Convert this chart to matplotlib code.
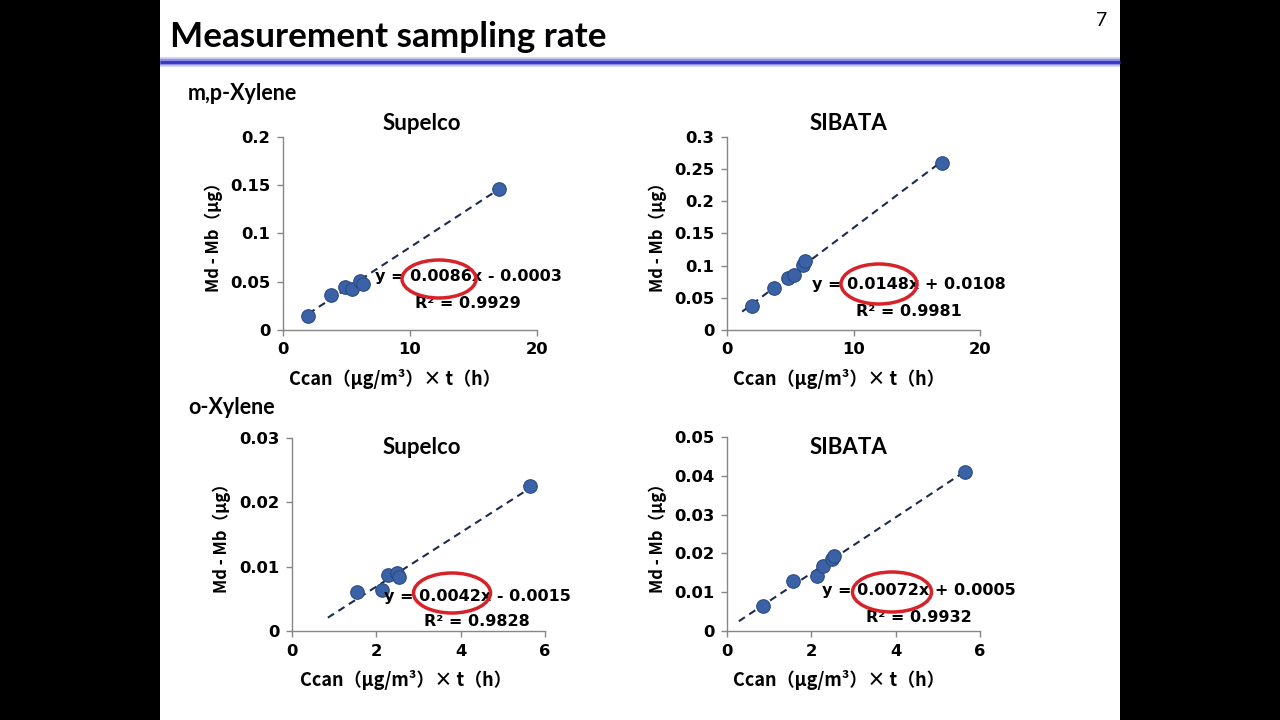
import matplotlib
matplotlib.use("Agg")
import matplotlib.pyplot as plt
from matplotlib.patches import Ellipse, Rectangle
from matplotlib.lines import Line2D
from matplotlib.ticker import FuncFormatter, MultipleLocator

# ----------------------------
# Data
# ----------------------------
mpSupelcoX = [2.0, 3.8, 4.9, 5.4, 6.1, 6.3, 17.0]
mpSupelcoY = [0.015, 0.036, 0.045, 0.042, 0.051, 0.048, 0.146]
mpSibataX = [1.95, 3.75, 4.8, 5.3, 6.0, 6.2, 17.0]
mpSibataY = [0.037, 0.066, 0.081, 0.085, 0.101, 0.108, 0.260]
oSupelcoX = [1.55, 2.13, 2.28, 2.49, 2.54, 5.65]
oSupelcoY = [0.0061, 0.0064, 0.0087, 0.0090, 0.0084, 0.0226]
oSibataX = [0.85, 1.56, 2.14, 2.27, 2.49, 2.54, 5.65]
oSibataY = [0.0064, 0.0128, 0.0142, 0.0167, 0.0185, 0.0194, 0.0411]

slopes = [0.0086, 0.0148, 0.0042, 0.0072]
intercepts = [-0.0003, 0.0108, -0.0015, 0.0005]
lineStart = [2.0, 1.2, 0.85, 0.28]
r2Values = ["0.9929", "0.9981", "0.9828", "0.9932"]
panelTitles = ["Supelco", "SIBATA", "Supelco", "SIBATA"]
xMax = [20, 20, 6, 6]
xStep = [10, 10, 2, 2]
yMax = [0.2, 0.3, 0.03, 0.05]
yStep = [0.05, 0.05, 0.01, 0.01]

xsAll = [mpSupelcoX, mpSibataX, oSupelcoX, oSibataX]
ysAll = [mpSupelcoY, mpSibataY, oSupelcoY, oSibataY]

W, H = 1280, 720
cjk = ["Noto Sans CJK JP", "DejaVu Sans"]
lato = ["Lato", "DejaVu Sans"]

fig = plt.figure(figsize=(12.8, 7.2), dpi=100, facecolor="black")

# white slide area between black side bars
bg = fig.add_axes([160 / W, 0, 960 / W, 1])
bg.set_facecolor("white")
bg.axis("off")
bg.add_patch(Rectangle((0, 0), 1, 1, transform=bg.transAxes, color="white", zorder=0))


def px(x, y):
    return x / W, 1 - y / H


# title and page number
fig.text(*px(170, 37), "Measurement sampling rate", family=lato, fontsize=25.3,
         fontweight="bold", va="center", ha="left")
fig.text(*px(1102, 20), "7", family=lato, fontsize=14, va="center", ha="center")

# blue rule under the title
for lw, col in [(7, "#d0d0f2"), (4.5, "#9090e0"), (2.2, "#3a3ac8")]:
    fig.add_artist(Line2D([160 / W, 1120 / W], [1 - 62 / H] * 2, transform=fig.transFigure,
                          color=col, linewidth=lw, solid_capstyle="butt"))

fig.text(*px(188, 93), "m,p-Xylene", family=lato, fontsize=15.5, fontweight="bold", va="center")
fig.text(*px(188, 408), "o-Xylene", family=lato, fontsize=15.5, fontweight="bold", va="center")

# axes boxes in pixels: left, top, right, bottom
boxes = [(283, 137, 537, 330), (727, 137, 980, 330), (292, 438, 545, 631), (727, 437, 980, 631)]
titlePos = [(422, 123), (848, 123), (422, 448), (848, 448)]
eqPos = [(468, 277), (909, 285), (477, 596), (919, 591)]
ellipses = [(439, 279, 74, 38), (879, 284, 76, 40), (452, 593, 77, 40), (892, 592, 79, 40)]
yLabelX = [214, 658, 222, 658]
xLabelY = [379, 379, 680, 680]
xLabelX = [395, 839, 406, 839]

fmt = FuncFormatter(lambda v, p: "{:g}".format(round(v, 4)))

for i in range(4):
    l, t, r, b = boxes[i]
    ax = fig.add_axes([l / W, 1 - b / H, (r - l) / W, (b - t) / H])
    ax.set_xlim(0, xMax[i])
    ax.set_ylim(0, yMax[i])
    ax.xaxis.set_major_locator(MultipleLocator(xStep[i]))
    ax.yaxis.set_major_locator(MultipleLocator(yStep[i]))
    ax.xaxis.set_major_formatter(fmt)
    ax.yaxis.set_major_formatter(fmt)
    for side in ["top", "right"]:
        ax.spines[side].set_visible(False)
    for side in ["left", "bottom"]:
        ax.spines[side].set_color("#868686")
        ax.spines[side].set_linewidth(1.0)
    ax.tick_params(direction="out", length=4, width=1, color="#868686", labelsize=11.8, pad=5)
    for lab in ax.get_xticklabels() + ax.get_yticklabels():
        lab.set_fontweight("bold")
    ax.patch.set_alpha(0)

    xs = [lineStart[i], max(xsAll[i])]
    ys = [slopes[i] * x + intercepts[i] for x in xs]
    ax.plot(xs, ys, linestyle=(0, (3.5, 2.5)), color="#1c2b4f", linewidth=1.5, zorder=2)
    ax.scatter(xsAll[i], ysAll[i], s=95, color="#3b62a6", edgecolor="#2a4a82",
               linewidth=0.8, zorder=3, clip_on=False)

    fig.text(*px(*titlePos[i]), panelTitles[i], family=lato, fontsize=16, fontweight="bold",
             ha="center", va="center")
    sign = "+" if intercepts[i] >= 0 else "-"
    eq = "y = {:.4f}x {} {:.4f}".format(slopes[i], sign, abs(intercepts[i]))
    ex, ey = eqPos[i]
    fig.text(*px(ex, ey), eq, fontsize=11.5, fontweight="bold", ha="center", va="center",
             family="DejaVu Sans")
    fig.text(*px(ex, ey + 26), "R² = " + r2Values[i], fontsize=11.5, fontweight="bold",
             ha="center", va="center", family="DejaVu Sans")

    cx, cy, ew, eh = ellipses[i]
    fig.add_artist(Ellipse(px(cx, cy), ew / W, eh / H, transform=fig.transFigure,
                           fill=False, edgecolor="#d8222a", linewidth=2.5, zorder=5))

    fig.text(*px(yLabelX[i], (t + b) / 2), "Md - Mb（μg）", family=cjk, fontsize=12,
             fontweight="bold", rotation=90, ha="center", va="center")
    fig.text(*px(xLabelX[i], xLabelY[i]), "Ccan（μg/m³）× t（h）", family=cjk,
             fontsize=13, fontweight="bold", ha="center", va="center")

fig.savefig("out.png", dpi=100, facecolor="black")
